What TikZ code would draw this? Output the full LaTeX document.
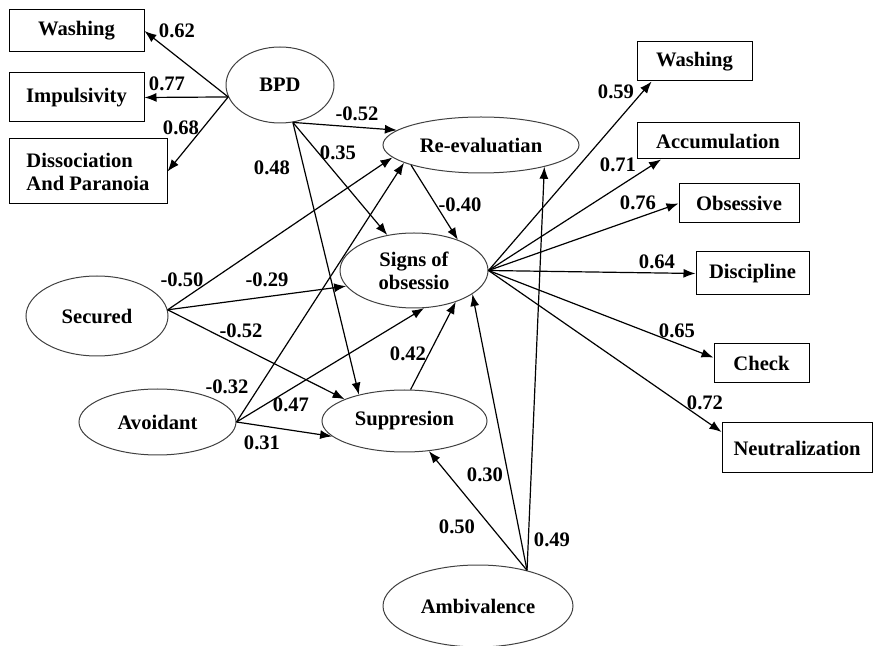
\documentclass[tikz,border=0pt]{standalone}
\usepackage{fontspec}
\setmainfont{Liberation Serif}
\usetikzlibrary{shapes.geometric,arrows.meta}

\begin{document}
\begin{tikzpicture}[x=0.5pt,y=-0.5pt,>={Latex[length=6pt,width=4.5pt]},line width=0.6pt,
    font=\fontsize{10.3}{11.5}\selectfont\bfseries,
    box/.style={rectangle,draw,line width=0.5pt,inner sep=0pt},
    oval/.style={ellipse,draw=black!75,line width=0.5pt,inner sep=0pt},
    coef/.style={inner sep=0pt}]
    \useasboundingbox (0,0) rectangle (873,646);
    % latent variables
    \node[oval,minimum width=54pt,minimum height=38pt] (bpd) at (280,85) {BPD};
    \node[oval,minimum width=98pt,minimum height=28pt] (reeval) at (481,145) {Re-evaluatian};
    \node[oval,minimum width=74pt,minimum height=37.5pt,align=center] (signs) at (414,270.5) {Signs of\\obsessio};
    \node[oval,minimum width=71pt,minimum height=40pt] (secured) at (97,316) {Secured};
    \node[oval,minimum width=78.5pt,minimum height=33pt] (avoid) at (157.5,422) {Avoidant};
    \node[oval,minimum width=82.5pt,minimum height=31pt] (suppr) at (404.5,421) {Suppresion};
    \node[oval,minimum width=95pt,minimum height=41pt] (ambiv) at (478,606) {Ambivalence};
    % BPD indicators
    \node[box,minimum width=67.5pt,minimum height=21pt] (wash1) at (76.5,31) {Washing};
    \node[box,minimum width=67.5pt,minimum height=24.5pt] (impul) at (76.5,97.5) {Impulsivity};
    \node[box,minimum width=79pt,minimum height=32.5pt,align=left] (dissoc) at (88,171.5) {Dissociation\\And Paranoia};
    % obsession indicators
    \node[box,minimum width=57.5pt,minimum height=19.5pt] (wash2) at (694.5,61.5) {Washing};
    \node[box,minimum width=81pt,minimum height=18pt] (accum) at (718,141) {Accumulation};
    \node[box,minimum width=60pt,minimum height=19.5pt] (obsess) at (739,203.5) {Obsessive};
    \node[box,minimum width=56.5pt,minimum height=21.5pt] (discip) at (752.5,273.5) {Discipline};
    \node[box,minimum width=47.5pt,minimum height=19.5pt] (check) at (761.5,363.5) {Check};
    \node[box,minimum width=75pt,minimum height=25pt] (neutral) at (797,448) {Neutralization};
    % loadings of BPD
    \draw[->] (bpd.193) -- (wash1.east);
    \draw[->] (bpd.193) -- (impul.east);
    \draw[->] (bpd.193) -- (dissoc.east);
    % paths
    \draw[->] (bpd.289) -- (reeval.170);
    \draw[->] (bpd.289) -- (signs.127);
    \draw[->] (bpd.289) -- (suppr.150);
    \draw[->] (secured.5) -- (reeval.188);
    \draw[->] (secured.5) -- (signs.193);
    \draw[->] (secured.5) -- (suppr.160);
    \draw[->] (avoid.east) -- (reeval.193);
    \draw[->] (avoid.east) -- (signs.285);
    \draw[->] (avoid.east) -- (suppr.192);
    \draw[->] (reeval.196) -- (signs.35);
    \draw[->] (suppr.79) -- (signs.323);
    \draw[->] (ambiv.36) -- (suppr.309);
    \draw[->] (ambiv.36) -- (signs.338);
    \draw[->] (ambiv.36) -- (reeval.341);
    % loadings of signs
    \draw[->] (signs.east) -- (wash2.205);
    \draw[->] (signs.east) -- (accum.198);
    \draw[->] (signs.east) -- (obsess.west);
    \draw[->] (signs.east) -- (discip.west);
    \draw[->] (signs.east) -- (check.173);
    \draw[->] (signs.east) -- (neutral.168);
    % coefficients
    \node[coef] (k1) at (177,31) {0.62};
    \node[coef] (k2) at (167,84) {0.77};
    \node[coef] (k3) at (181,128) {0.68};
    \node[coef] (k4) at (272,168) {0.48};
    \node[coef] (k5) at (357,114) {-0.52};
    \node[coef] (k6) at (338,153) {0.35};
    \node[coef] (k7) at (460,205) {-0.40};
    \node[coef] (k8) at (182,280) {-0.50};
    \node[coef] (k9) at (267,280) {-0.29};
    \node[coef] (k10) at (241,331) {-0.52};
    \node[coef] (k11) at (227,387) {-0.32};
    \node[coef] (k12) at (291,405) {0.47};
    \node[coef] (k13) at (262,443) {0.31};
    \node[coef] (k14) at (408,354) {0.42};
    \node[coef] (k15) at (457,527) {0.50};
    \node[coef] (k16) at (485,475) {0.30};
    \node[coef] (k17) at (552,540) {0.49};
    \node[coef] (k18) at (616,92) {0.59};
    \node[coef] (k19) at (618,165) {0.71};
    \node[coef] (k20) at (638,203) {0.76};
    \node[coef] (k21) at (657,262) {0.64};
    \node[coef] (k22) at (677,331) {0.65};
    \node[coef] (k23) at (705,403) {0.72};
\end{tikzpicture}
\end{document}
